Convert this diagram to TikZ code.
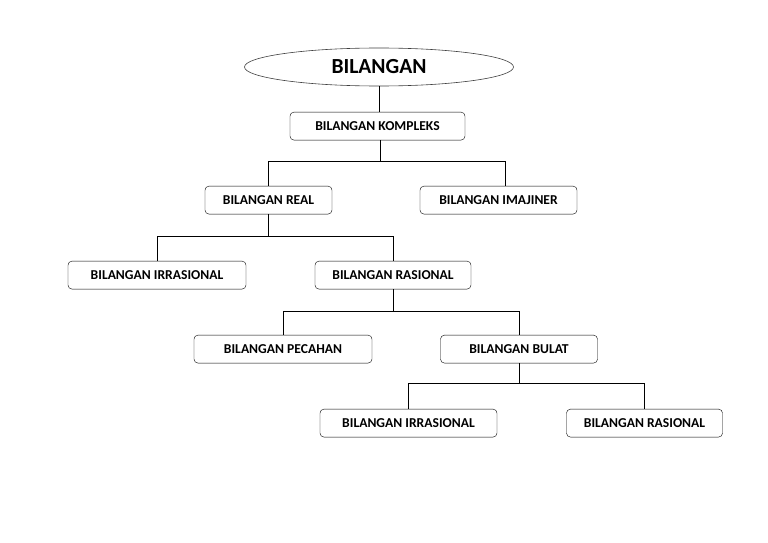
\documentclass[tikz,border=0pt]{standalone}
\usepackage{fontspec}
\setmainfont{Carlito}
\usepackage{tikz}
\usetikzlibrary{positioning,shapes.geometric}

\begin{document}
\begin{tikzpicture}[
		kotak/.style={draw=black,rounded corners=4pt,minimum height=28pt,inner sep=0pt,font=\bfseries\fontsize{13.6}{16}\selectfont},
		garis/.style={draw=black,line width=0.8pt}
	]
		\useasboundingbox[fill=white] (0,0) rectangle (768pt,-543pt);
		
		\node[ellipse,draw=black!75,line width=0.6pt,minimum width=269pt,minimum height=38pt,inner sep=0pt,font=\bfseries\fontsize{21.5}{26}\selectfont] (bil) at (379pt,-67pt) {BILANGAN};
		
		\node[kotak,below=25.6pt of bil,minimum width=175pt,xshift=-1.5pt] (komp) {BILANGAN KOMPLEKS};
		
		\node[kotak,below=45.6pt of komp,xshift=-109pt,minimum width=127pt] (real) {BILANGAN REAL};
		\node[kotak,below=45.6pt of komp,xshift=121pt,minimum width=157pt] (imaj) {BILANGAN IMAJINER};
		
		\node[kotak,below=46.6pt of real,xshift=-111.5pt,minimum width=178pt] (irr) {BILANGAN IRRASIONAL};
		\node[kotak,below=46.6pt of real,xshift=124.5pt,minimum width=156pt] (ras) {BILANGAN RASIONAL};
		
		\node[kotak,below=45.6pt of ras,xshift=-110pt,minimum width=178pt] (pec) {BILANGAN PECAHAN};
		\node[kotak,below=45.6pt of ras,xshift=126pt,minimum width=157pt] (bul) {BILANGAN BULAT};
		
		\node[kotak,below=45.6pt of bul,xshift=-110.5pt,minimum width=177pt] (irr2) {BILANGAN IRRASIONAL};
		\node[kotak,below=45.6pt of bul,xshift=125.5pt,minimum width=156pt] (ras2) {BILANGAN RASIONAL};
		
		\draw[garis] (bil.south)--(bil.south |- komp.north);
		
		\draw[garis] ([xshift=2.5pt]komp.south)--++(0,-21pt) coordinate (b1);
		\draw[garis] (real.north) |- (b1) -| ([xshift=6.5pt]imaj.north);
		
		\draw[garis] (real.south)--++(0,-22pt) coordinate (b2);
		\draw[garis] (irr.north) |- (b2) -| (ras.north);
		
		\draw[garis] (ras.south)--++(0,-22pt) coordinate (b3);
		\draw[garis] (pec.north) |- (b3) -| (bul.north);
		
		\draw[garis] (bul.south)--++(0,-20pt) coordinate (b4);
		\draw[garis] (irr2.north) |- (b4) -| (ras2.north);
	\end{tikzpicture}
\end{document}
